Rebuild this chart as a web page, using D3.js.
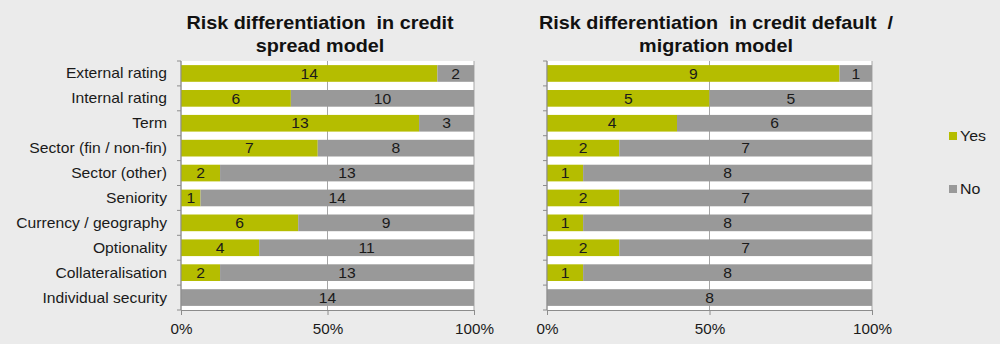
<!DOCTYPE html>
<html>
<head>
<meta charset="utf-8">
<script src="https://cdnjs.cloudflare.com/ajax/libs/d3/7.8.5/d3.min.js"></script>
<style>
  body { margin: 0; background: #ebebeb; }
  svg { display: block; font-family: "Liberation Sans", Arial, sans-serif; }
</style>
</head>
<body>
<svg id="chart" width="1000" height="344"></svg>
<script>
var categories = ['External rating', 'Internal rating', 'Term', 'Sector (fin / non-fin)',
  'Sector (other)', 'Seniority', 'Currency / geography', 'Optionality',
  'Collateralisation', 'Individual security'];

var spreadYes = [14, 6, 13, 7, 2, 1, 6, 4, 2, 0];
var spreadNo  = [2, 10, 3, 8, 13, 14, 9, 11, 13, 14];

var defaultYes = [9, 5, 4, 2, 1, 2, 1, 2, 1, 0];
var defaultNo  = [1, 5, 6, 7, 8, 7, 8, 7, 8, 8];

var seriesNames = ['Yes', 'No'];
var tickValues = [0, 0.5, 1];

var colors = {Yes: '#b5bd00', No: '#999999'};

var svg = d3.select('#chart');

// the source picture is a bit wide, so text gets stretched sideways
var stretch = function(sel, s){
  sel.each(function(){
    var t = d3.select(this);
    var x = +t.attr('x') || 0, y = +t.attr('y') || 0;
    t.attr('transform', 'translate(' + x + ',' + y + ') scale(' + s + ',1) translate(' + (-x) + ',' + (-y) + ')');
  });
};

var panels = [
  {title: ['Risk differentiation  in credit', 'spread model'], titleX: 320,
   left: 181, right: 474, yes: spreadYes, no: spreadNo, showCats: true},
  {title: ['Risk differentiation  in credit default  /', 'migration model'], titleX: 716,
   left: 547, right: 872, yes: defaultYes, no: defaultNo, showCats: false}
];

// note: "top" is taken by window.top, so use plotTop
var plotTop = 61, plotBottom = 310;

var y = d3.scaleBand()
  .domain(categories)
  .range([plotTop, plotBottom])
  .paddingInner(0.33)
  .paddingOuter(0.165);

panels.forEach(function(p){
  var x = d3.scaleLinear().domain([0, 1]).range([p.left, p.right]);

  var g = svg.append('g');

  // white plot area
  g.append('rect')
    .attr('x', p.left).attr('y', plotTop)
    .attr('width', p.right - p.left).attr('height', plotBottom - plotTop)
    .attr('fill', '#ffffff');

  // gridlines
  g.selectAll('.grid').data(tickValues).enter().append('line')
    .attr('x1', function(d){ return x(d); })
    .attr('x2', function(d){ return x(d); })
    .attr('y1', plotTop).attr('y2', plotBottom)
    .attr('stroke', '#a6a6a6').attr('stroke-width', 1);

  var rows = categories.map(function(c, i){
    var total = p.yes[i] + p.no[i];
    return {cat: c, segs: [
      {name: 'Yes', v: p.yes[i], x0: 0, x1: p.yes[i] / total},
      {name: 'No', v: p.no[i], x0: p.yes[i] / total, x1: 1}
    ]};
  });

  var row = g.selectAll('.row').data(rows).enter().append('g');

  row.selectAll('rect').data(function(d){
    return d.segs.map(function(s){ s.cat = d.cat; return s; });
  }).enter().append('rect')
    .attr('x', function(d){ return x(d.x0); })
    .attr('width', function(d){ return x(d.x1) - x(d.x0); })
    .attr('y', function(d){ return y(d.cat); })
    .attr('height', y.bandwidth())
    .attr('fill', function(d){ return colors[d.name]; });

  row.selectAll('text').data(function(d){
    return d.segs.filter(function(s){ return s.v > 0; });
  }).enter().append('text')
    .attr('x', function(d){ return (x(d.x0) + x(d.x1)) / 2; })
    .attr('y', function(d){ return y(d.cat) + y.bandwidth() / 2; })
    .attr('dy', '0.36em')
    .attr('text-anchor', 'middle')
    .attr('font-size', 14.5)
    .attr('fill', '#1a1a1a')
    .text(function(d){ return d.v; })
    .call(stretch, 1.08);

  // left axis
  var ax = g.append('g');
  ax.append('line')
    .attr('x1', p.left).attr('x2', p.left)
    .attr('y1', plotTop).attr('y2', plotBottom)
    .attr('stroke', '#8c8c8c');
  var bounds = d3.range(categories.length + 1).map(function(i){
    return plotTop + i * y.step();
  });
  ax.selectAll('.tk').data(bounds).enter().append('line')
    .attr('x1', p.left - 4).attr('x2', p.left)
    .attr('y1', function(d){ return d; }).attr('y2', function(d){ return d; })
    .attr('stroke', '#8c8c8c');

  if (p.showCats) {
    ax.selectAll('.cat').data(categories).enter().append('text')
      .attr('x', 167)
      .attr('y', function(d){ return y(d) + y.bandwidth() / 2; })
      .attr('dy', '0.36em')
      .attr('text-anchor', 'end')
      .attr('font-size', 14)
      .attr('fill', '#1a1a1a')
      .text(function(d){ return d; })
      .call(stretch, 1.12);
  }

  // bottom axis
  var xAxis = d3.axisBottom(x)
    .tickValues(tickValues)
    .tickFormat(d3.format('.0%'))
    .tickSize(5)
    .tickPadding(9);
  var bx = g.append('g')
    .attr('transform', 'translate(0,' + plotBottom + ')')
    .call(xAxis);
  bx.select('.domain').attr('stroke', '#8c8c8c').attr('d', 'M' + p.left + ',0.5H' + p.right);
  bx.selectAll('.tick line').attr('stroke', '#8c8c8c');
  bx.selectAll('.tick text')
    .attr('font-size', 14.5)
    .attr('font-family', '"Liberation Sans", Arial, sans-serif')
    .attr('fill', '#1a1a1a')
    .call(stretch, 1.05);

  // title
  svg.append('text')
    .attr('x', p.titleX).attr('y', 29)
    .attr('text-anchor', 'middle')
    .attr('font-size', 18).attr('font-weight', 'bold')
    .attr('fill', '#111')
    .style('white-space', 'pre')
    .call(stretch, 1.1)
    .selectAll('tspan').data(p.title).enter().append('tspan')
    .attr('x', p.titleX)
    .attr('dy', function(d, i){ return i ? 23 : 0; })
    .text(function(d){ return d; });
});

// legend
var legend = svg.append('g');
var lg = legend.selectAll('g').data(seriesNames).enter().append('g')
  .attr('transform', function(d, i){ return 'translate(949,' + (132 + i * 53) + ')'; });
lg.append('rect')
  .attr('width', 8).attr('height', 8)
  .attr('fill', function(d){ return colors[d]; });
lg.append('text')
  .attr('x', 11).attr('y', 4)
  .attr('dy', '0.36em')
  .attr('font-size', 14.5)
  .attr('fill', '#1a1a1a')
  .text(function(d){ return d; })
  .call(stretch, 1.1);
</script>
</body>
</html>
